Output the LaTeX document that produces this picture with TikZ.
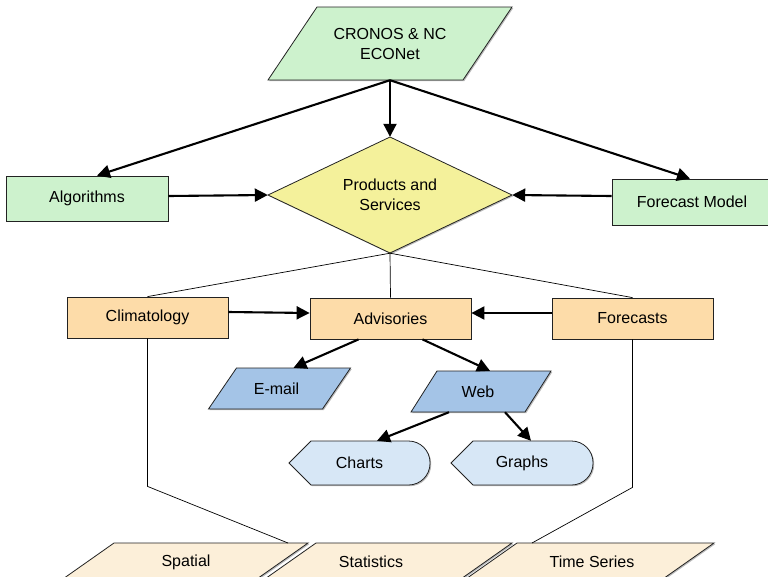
\documentclass[tikz,border=0pt]{standalone}
\usepackage{fontspec}
\setmainfont{Liberation Sans}
\usetikzlibrary{arrows.meta,shadows}

\definecolor{srcgreen}{HTML}{CDF2CD}
\definecolor{prodyellow}{HTML}{F4F19B}
\definecolor{peach}{HTML}{FDDCA9}
\definecolor{chanblue}{HTML}{A4C4E7}
\definecolor{paleblue}{HTML}{D7E7F6}
\definecolor{cream}{HTML}{FCEFD9}
\definecolor{edge}{HTML}{222222}

\tikzset{
  boxshade/.style={drop shadow={shadow xshift=1.2pt,shadow yshift=-1.2pt,fill=black!45,opacity=0.6}},
  outline/.style={draw=edge,line width=0.8pt,boxshade},
  rectbox/.style={rectangle,outline,inner sep=0pt},
  pgbody/.style={rectangle,inner sep=0pt,align=center},
  arr/.style={draw=black,line width=2.1pt,-{Triangle[length=13pt,width=13pt]}},
  link/.style={draw=black,line width=0.7pt},
  every label/.style={align=center,inner sep=0pt},
}

% parallelogram: name, centre, width, height, slant offset, fill, text, text shift
\newcommand\pgram[8]{%
  \path[outline,fill=#6,shift={#2}]
    ({-#3/2-#5/2},{#4/2}) -- ({#3/2-#5/2},{#4/2}) --
    ({#3/2+#5/2},{-#4/2}) -- ({-#3/2+#5/2},{-#4/2}) -- cycle;
  \node[pgbody,minimum width=#3,minimum height=#4,
        label={[xshift=#8]center:#7}] (#1) at #2 {};
}

% display shape: pointed left end, rounded right end
\newcommand\dispshape[4]{%
  \path[outline,fill=paleblue,shift={#2}]
    ({-#3/2},0) -- ({-#3/2+22},-22)
    [rounded corners=21.5] -- ({#3/2},-22) -- ({#3/2},22)
    [rounded corners=0] -- ({-#3/2+22},22) -- cycle;
  \node[pgbody,minimum width=#3,minimum height=44] (#1) at #2 {#4};
}

% decision diamond: name, centre, width, height, fill, text
\newcommand\decision[6]{%
  \path[outline,fill=#5,shift={#2}]
    ({-#3/2},0) -- (0,{-#4/2}) -- ({#3/2},0) -- (0,{#4/2}) -- cycle;
  \node[pgbody,minimum width=#3,minimum height=#4] (#1) at #2 {#6};
}

\begin{document}
\begin{tikzpicture}[x=1pt,y=-1pt,font=\fontsize{16}{20}\selectfont]
\clip (0,0) rectangle (768,576);
\fill[white] (0,0) rectangle (768,576);

% data source
\pgram{src}{(390,43.5)}{195}{73}{49}{srcgreen}{CRONOS \& NC\\ECONet}{0}

% inputs and the central product node
\node[rectbox,fill=srcgreen,minimum width=162,minimum height=45] (alg) at (87,198.5) {Algorithms};
\node[rectbox,fill=srcgreen,minimum width=160,minimum height=46] (fm) at (692,202) {Forecast Model};
\decision{ps}{(390,195)}{244}{116}{prodyellow}{Products and\\Services}

% product families
\node[rectbox,fill=peach,minimum width=161,minimum height=41] (clim) at (147.5,317.5) {Climatology};
\node[rectbox,fill=peach,minimum width=161,minimum height=41] (adv) at (390.5,318.5) {Advisories};
\node[rectbox,fill=peach,minimum width=161,minimum height=41] (fc) at (632.5,318.5) {Forecasts};

% delivery channels
\pgram{email}{(279.5,388.5)}{114}{41}{28}{chanblue}{E-mail}{-3}
\pgram{web}{(481,391.5)}{114}{41}{26}{chanblue}{Web}{-3}
\dispshape{charts}{(359.5,463)}{141}{Charts}
\dispshape{graphs}{(522,463)}{142}{Graphs}

% output types
\pgram{spat}{(184,562)}{194}{38}{54}{cream}{Spatial}{2}
\pgram{stats}{(387,562)}{196}{38}{54}{cream}{Statistics}{-16}
\pgram{tser}{(588.5,562)}{197}{38}{54}{cream}{Time Series}{3.5}
\coordinate (spat-in) at (288,543);
\coordinate (tser-in) at (532,543);

% data flow
\draw[arr] (src.south) -- ([xshift=10]alg.north);
\draw[arr] (src.south) -- (ps.north);
\draw[arr] (src.south) -- ([xshift=-2]fm.north);
\draw[arr] ([yshift=2.5]alg.east) -- (ps.west);
\draw[arr] ([yshift=6]fm.west) -- (ps.east);

\draw[link] (ps.south) -- (clim.north);
\draw[link] (ps.south) -- (adv.north);
\draw[link] (ps.south) -- (fc.north);

\draw[arr] ([yshift=5.5]clim.east) -- ([yshift=5.5]adv.west);
\draw[arr] ([yshift=5.5]fc.west) -- ([yshift=5.5]adv.east);

\draw[arr] ([xshift=-32]adv.south) -- ([xshift=14]email.north);
\draw[arr] ([xshift=32]adv.south) -- ([xshift=9]web.north);
\draw[arr] ([xshift=-32]web.south) -- ([xshift=17.5]charts.north);
\draw[arr] ([xshift=24]web.south) -- ([xshift=9]graphs.north);

\draw[link] (clim.south) -- ++(0,148) -- (spat-in);
\draw[link] (fc.south) -- ++(0,148) -- (tser-in);
\end{tikzpicture}
\end{document}
